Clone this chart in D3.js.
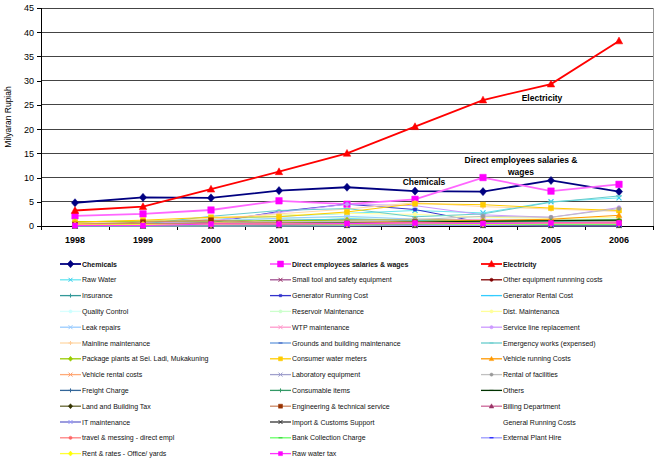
<!DOCTYPE html>
<html><head><meta charset="utf-8">
<script src="https://cdn.jsdelivr.net/npm/d3@7"></script>
<style>body{margin:0;background:#fff}svg{display:block;font-family:"Liberation Sans",Arial,sans-serif}</style>
</head><body><svg id="c" width="660" height="468"></svg>
<script>
const years = ["1998","1999","2000","2001","2002","2003","2004","2005","2006"];
const yTicks = [0,5,10,15,20,25,30,35,40,45];

const chemicals        = [4.8, 5.9, 5.8, 7.3, 8.0, 7.2, 7.1, 9.4, 7.1];
const directEmployees  = [2.1, 2.5, 3.3, 5.2, 4.5, 5.5, 10.0, 7.2, 8.6];
const electricity      = [3.2, 4.0, 7.6, 11.2, 15.0, 20.5, 26.0, 29.3, 38.2];
const rawWater         = [0.3, 0.6, 1.4, 2.0, 2.6, 3.2, 2.7, 5.0, 5.8];
const smallTool        = [0.1, 0.2, 0.3, 0.3, 0.4, 0.5, 0.4, 0.5, 0.5];
const otherEquipment   = [0.2, 0.3, 0.4, 0.4, 0.5, 0.8, 0.6, 0.7, 0.4];
const insurance        = [0.8, 0.8, 1.0, 1.2, 1.3, 1.1, 1.0, 1.2, 1.3];
const generatorRunning = [0.3, 0.5, 0.7, 3.0, 4.5, 3.4, 0.7, 0.5, 0.4];
const generatorRental  = [0.0, 0.0, 0.2, 1.0, 1.5, 1.2, 0.8, 0.6, 0.5];
const qualityControl   = [0.2, 0.3, 0.5, 1.5, 2.0, 2.2, 1.5, 1.4, 1.6];
const reservoir        = [0.5, 0.6, 1.2, 1.6, 1.8, 1.5, 1.2, 1.0, 1.1];
const distMaintenance  = [0.4, 0.8, 1.6, 2.3, 2.6, 2.4, 1.8, 1.6, 1.8];
const leakRepairs      = [0.3, 0.5, 1.0, 1.6, 2.0, 1.4, 1.0, 0.9, 1.0];
const wtpMaintenance   = [0.2, 0.4, 0.6, 0.9, 1.2, 1.4, 1.3, 1.2, 1.0];
const serviceLine      = [0.3, 0.6, 1.0, 2.8, 4.5, 4.2, 2.3, 1.8, 3.8];
const mainline         = [0.6, 1.0, 1.5, 2.5, 3.5, 4.8, 4.0, 3.5, 3.0];
const grounds          = [0.2, 0.3, 0.5, 0.7, 0.8, 0.8, 0.6, 0.6, 0.7];
const emergencyWorks   = [0.2, 0.4, 2.0, 3.2, 3.6, 1.9, 2.5, 4.9, 6.2];
const packagePlants    = [0.9, 1.0, 1.0, 1.1, 1.2, 1.3, 1.1, 1.2, 1.2];
const consumerMeters   = [0.8, 1.2, 1.8, 1.9, 2.9, 4.6, 4.4, 3.7, 3.2];
const vehicleRunning   = [0.4, 0.5, 0.6, 0.7, 0.8, 0.9, 1.1, 1.4, 2.2];
const vehicleRental    = [0.1, 0.2, 0.3, 0.4, 0.5, 0.6, 0.5, 0.6, 0.7];
const laboratory       = [0.1, 0.2, 0.2, 0.3, 0.3, 0.4, 0.3, 0.3, 0.3];
const rentalFacilities = [0.2, 0.3, 0.5, 0.8, 1.0, 1.3, 2.0, 1.8, 3.6];
const freight          = [0.1, 0.1, 0.2, 0.2, 0.2, 0.3, 0.2, 0.2, 0.2];
const consumable       = [0.3, 0.4, 0.5, 0.6, 0.7, 0.8, 0.9, 1.0, 1.1];
const others           = [0.2, 0.3, 0.4, 0.5, 0.6, 0.8, 1.0, 1.1, 1.2];
const landTax          = [0.1, 0.1, 0.1, 0.2, 0.2, 0.2, 0.2, 0.2, 0.2];
const engineering      = [0.3, 0.8, 1.2, 0.6, 0.5, 0.8, 0.6, 0.6, 0.5];
const billing          = [0.0, 0.0, 0.0, 0.1, 0.2, 0.3, 0.3, 0.4, 0.4];
const itMaintenance    = [0.0, 0.0, 0.1, 0.1, 0.2, 0.2, 0.2, 0.3, 0.3];
const importCustoms    = [0.0, 0.0, 0.0, 0.1, 0.1, 0.1, 0.1, 0.1, 0.1];
const generalRunning   = [0.0, 0.0, 0.0, 0.0, 0.0, 0.0, 0.0, 0.0, 0.0];
const travelMessing    = [0.3, 0.4, 0.5, 0.5, 0.6, 0.7, 0.6, 0.7, 0.8];
const bankCollection   = [0.0, 0.0, 0.0, 0.0, 0.1, 0.2, 0.3, 0.3, 0.3];
const externalPlant    = [0.0, 0.0, 0.0, 0.0, 0.0, 0.1, 0.1, 0.0, 0.0];
const rentRates        = [0.2, 0.3, 0.3, 0.4, 0.4, 0.5, 0.4, 0.5, 0.5];
const rawWaterTax      = [0.1, 0.1, 0.4, 0.4, 0.5, 0.6, 0.5, 0.6, 0.6];

const seriesNames = ["Chemicals","Direct employees salaries & wages","Electricity",
 "Raw Water","Small tool and safety equipment","Other equipment runnning costs",
 "Insurance","Generator Running Cost","Generator Rental Cost",
 "Quality Control","Reservoir Maintenance","Dist. Maintenanca",
 "Leak repairs","WTP maintenance","Service line replacement",
 "Mainline maintenance","Grounds and building maintenance","Emergency works (expensed)",
 "Package plants at Sei. Ladi, Mukakuning","Consumer water meters","Vehicle running Costs",
 "Vehicle rental costs","Laboratory equipment","Rental of facilities",
 "Freight Charge","Consumable items","Others",
 "Land and Building Tax","Engineering & technical service","Billing Department",
 "IT maintenance","Import & Customs Support","General Running Costs",
 "travel & messing - direct empl","Bank Collection Charge","External Plant Hire",
 "Rent & rates - Office/ yards","Raw water tax"];
const seriesValues = [chemicals,directEmployees,electricity,rawWater,smallTool,otherEquipment,
 insurance,generatorRunning,generatorRental,qualityControl,reservoir,distMaintenance,
 leakRepairs,wtpMaintenance,serviceLine,mainline,grounds,emergencyWorks,
 packagePlants,consumerMeters,vehicleRunning,vehicleRental,laboratory,rentalFacilities,
 freight,consumable,others,landTax,engineering,billing,
 itMaintenance,importCustoms,generalRunning,travelMessing,bankCollection,externalPlant,
 rentRates,rawWaterTax];

// styles: [line colour, marker colour, marker shape]
const styles = [
 ["#000080","#000080","diamond"],["#ff66ff","#ff00ff","square"],["#ff0000","#ff0000","triangle"],
 ["#66e6f0","#33ccee","x"],["#a05090","#993366","x"],["#800000","#800000","circle"],
 ["#339999","#339999","plus"],["#3333cc","#3333cc","smallsq"],["#33ccff","#33ccff","dash"],
 ["#d8ffff","#ccffff","circle"],["#ccffcc","#ccffcc","circle"],["#ffff99","#ffff99","circle"],
 ["#99ccff","#99ccff","x"],["#ff99cc","#ff99cc","x"],["#cc99ff","#cc99ff","circle"],
 ["#ffd9a8","#ffcc99","plus"],["#6699dd","#3355bb","dash"],["#66cccc","#66cccc","dash"],
 ["#99cc00","#99cc00","diamond"],["#ffcc00","#ffcc00","square"],["#ff9900","#ff9900","triangle"],
 ["#ffaa77","#ff9966","x"],["#a0a0cc","#9999cc","x"],["#c0c0c0","#999999","circle"],
 ["#336699","#336699","plus"],["#339966","#339966","plus"],["#003300","#003300","dash"],
 ["#666633","#333300","diamond"],["#cc8866","#993300","square"],["#cc6699","#993366","triangle"],
 ["#6666cc","#9999ff","x"],["#333333","#333333","x"],["none","none","none"],
 ["#ff8080","#ff6666","circle"],["#66ff66","#33cc33","dash"],["#9999ff","#0000ff","dash"],
 ["#ffff33","#ffff00","diamond"],["#ff33ff","#ff00ff","square"]
];

const FONT = "Liberation Sans, Arial, sans-serif";
const svg = d3.select("#c");
const L = 41, R = 653, T = 8, B = 226;
const x = d3.scaleBand().domain(years).range([L, R]);
const y = d3.scaleLinear().domain([0, 45]).range([B, T]);
const cx = d => x(d) + x.bandwidth() / 2;

// gridlines
svg.append("g").selectAll("line").data(yTicks.filter(t => t > 0)).join("line")
  .attr("x1", L).attr("x2", R).attr("y1", d => y(d)).attr("y2", d => y(d))
  .attr("stroke", "#444").attr("stroke-width", 1).attr("shape-rendering", "crispEdges");
svg.append("line").attr("x1", R).attr("x2", R).attr("y1", T).attr("y2", B)
  .attr("stroke", "#999").attr("shape-rendering", "crispEdges");

// axes
const yAxis = svg.append("g").attr("transform", `translate(${L},0)`)
  .call(d3.axisLeft(y).tickValues(yTicks).tickSize(4).tickPadding(3));
yAxis.selectAll("text").attr("font-size", 9).attr("fill", "#000").attr("font-family", FONT);
yAxis.selectAll("line,path").attr("stroke", "#000").attr("shape-rendering", "crispEdges");

const xAxisG = svg.append("g").attr("transform", `translate(0,${B})`);
xAxisG.append("line").attr("x1", L).attr("x2", R).attr("stroke", "#000").attr("shape-rendering", "crispEdges");
xAxisG.selectAll("line.tk").data(d3.range(years.length + 1)).join("line").attr("class", "tk")
  .attr("x1", i => L + i * x.step()).attr("x2", i => L + i * x.step()).attr("y1", 0).attr("y2", 4)
  .attr("stroke", "#000").attr("shape-rendering", "crispEdges");
xAxisG.selectAll("text").data(years).join("text")
  .attr("x", d => cx(d)).attr("y", 17).attr("text-anchor", "middle")
  .attr("font-size", 9).attr("font-weight", "bold").attr("fill", "#000").text(d => d);

svg.append("text").attr("transform", "translate(11,117) rotate(-90)").attr("text-anchor", "middle")
  .attr("font-size", 8.5).text("Milyaran Rupiah");

function markerPath(shape, s) {
  const h = s / 2;
  switch (shape) {
    case "diamond": return `M0,${-h*1.25}L${h*1.1},0L0,${h*1.25}L${-h*1.1},0Z`;
    case "square": return `M${-h},${-h}h${s}v${s}h${-s}Z`;
    case "smallsq": return `M${-h*0.6},${-h*0.6}h${s*0.6}v${s*0.6}h${-s*0.6}Z`;
    case "triangle": return `M0,${-h*1.2}L${h*1.15},${h*0.9}L${-h*1.15},${h*0.9}Z`;
    case "circle": return d3.arc()({innerRadius:0,outerRadius:h*0.8,startAngle:0,endAngle:2*Math.PI});
    case "x": return `M${-h},${-h}L${h},${h}M${h},${-h}L${-h},${h}`;
    case "plus": return `M${-h},0L${h},0M0,${-h}L0,${h}`;
    case "dash": return `M${-h},0L${h},0`;
    default: return "";
  }
}
const strokeShapes = new Set(["x","plus","dash"]);

const line = d3.line().x((d, i) => cx(years[i])).y(d => y(d));
const plot = svg.append("g");
seriesValues.forEach((vals, si) => {
  const [lc, mc, shape] = styles[si];
  if (lc === "none") return;
  const main = si < 3;
  plot.append("path").datum(vals).attr("d", line).attr("fill", "none")
    .attr("stroke", lc).attr("stroke-width", main ? 1.8 : 1);
  const ms = main ? 6.5 : 5;
  plot.append("g").selectAll("path").data(vals).join("path")
    .attr("transform", (d, i) => `translate(${cx(years[i])},${y(d)})`)
    .attr("d", markerPath(shape, ms))
    .attr("fill", strokeShapes.has(shape) ? "none" : mc)
    .attr("stroke", mc).attr("stroke-width", strokeShapes.has(shape) ? 1.2 : 0.5);
});

// annotations
const ann = svg.append("g").attr("font-size", 8.5).attr("font-weight", "bold").attr("text-anchor", "middle");
ann.append("text").attr("x", 542).attr("y", 101).text("Electricity");
ann.append("text").attr("x", 521).attr("y", 163).text("Direct employees salaries &");
ann.append("text").attr("x", 521).attr("y", 175).text("wages");
ann.append("text").attr("x", 424).attr("y", 185).text("Chemicals");

// legend
const colX = [60, 270, 481];
const leg = svg.append("g");
seriesNames.forEach((name, si) => {
  const col = si % 3, row = Math.floor(si / 3);
  const lx = colX[col], ly = 264 + row * 15.8;
  const [lc, mc, shape] = styles[si];
  const g = leg.append("g").attr("transform", `translate(${lx},${ly})`);
  if (lc !== "none") {
    g.append("line").attr("x1", 0).attr("x2", 21).attr("stroke", lc).attr("stroke-width", si < 3 ? 1.8 : 1.3);
    g.append("path").attr("transform", "translate(10.5,0)").attr("d", markerPath(shape, si < 3 ? 6 : 4))
      .attr("fill", strokeShapes.has(shape) ? "none" : mc).attr("stroke", mc)
      .attr("stroke-width", strokeShapes.has(shape) ? 1 : 0.5);
  }
  g.append("text").attr("x", 22).attr("y", 2.6).attr("font-size", 7)
    .attr("font-weight", si < 3 ? "bold" : "normal").attr("fill", "#111").text(name);
});
</script></body></html>
